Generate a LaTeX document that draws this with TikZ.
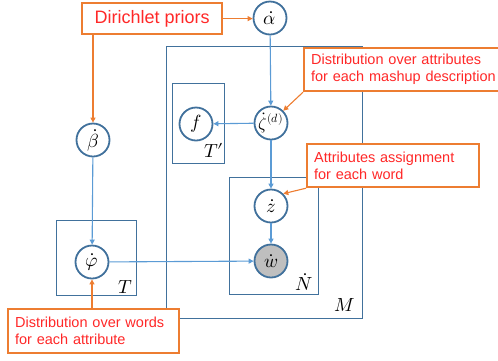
\documentclass[tikz,border=0pt]{standalone}
\usepackage{fontspec}
\usepackage{unicode-math}
\setmainfont{Liberation Sans}
\setmathfont{Latin Modern Math}
\usetikzlibrary{arrows.meta}

\definecolor{plateblue}{RGB}{65,113,156}
\definecolor{arrowblue}{RGB}{91,155,213}
\definecolor{noteorange}{RGB}{237,125,49}
\definecolor{notered}{RGB}{255,40,40}
\definecolor{obsgray}{RGB}{191,191,191}

\tikzset{
  var/.style={circle, draw=plateblue, line width=1.8pt, minimum size=33pt,
    inner sep=0pt, fill=white, font=\fontsize{19}{19}\selectfont},
  obsvar/.style={var, fill=obsgray},
  plate/.style={draw=plateblue, line width=1.3pt, inner sep=0pt, anchor=north west},
  platelabel/.style={inner sep=0pt, font=\fontsize{19}{19}\selectfont},
  callout/.style={draw=noteorange, line width=2.2pt, fill=white, text=notered,
    align=left, anchor=north west, inner xsep=7pt, inner ysep=0pt,
    font=\fontsize{14.5}{17}\selectfont},
  flow/.style={draw=arrowblue, line width=1.1pt, -{Triangle[length=5pt,width=5pt]}},
  pointer/.style={draw=noteorange, line width=1.1pt, -{Triangle[length=5pt,width=5pt]}},
}

\begin{document}
\begin{tikzpicture}[x=1pt, y=-1pt]
  \useasboundingbox (0,0) rectangle (498,360);

  % plates
  \node[plate, minimum width=196pt, minimum height=272pt] (Mplate) at (166,46) {};
  \node[plate, minimum width=52pt, minimum height=80pt] (Tpplate) at (172,83) {};
  \node[plate, minimum width=89pt, minimum height=117pt] (Nplate) at (229,177) {};
  \node[plate, minimum width=80pt, minimum height=75pt] (Tplate) at (56,220) {};

  \node[platelabel] (Tplab) at (214,150) {$T\kern-0.5pt\prime$};
  \node[platelabel] (Nlab) at (304,282) {$\dot N$};
  \node[platelabel] (Mlab) at (345,305) {$M$};
  \node[platelabel] (Tlab) at (125,287) {$T$};

  % random variables
  \node[var] (alpha) at (270,18) {$\dot\alpha$};
  \node[var] (beta) at (93,140) {$\dot\beta$};
  \node[var] (f) at (196,124) {$f$};
  \node[var, font=\fontsize{17}{17}\selectfont] (zeta) at (271,123) {$\dot\zeta^{(d)}$};
  \node[var] (z) at (271,206) {$\dot z$};
  \node[obsvar] (w) at (271,261) {$\dot w$};
  \node[var] (phi) at (92,262) {$\dot\varphi$};

  % dependencies
  \draw[flow] (alpha) -- (zeta);
  \draw[flow] (zeta) -- (f);
  \draw[flow] (zeta) -- (z);
  \draw[flow] (z) -- (w);
  \draw[flow] (beta) -- (phi);
  \draw[flow] (phi) -- (w);

  % annotations
  \node[callout, minimum width=140pt, minimum height=31pt, align=center,
        font=\fontsize{18}{20}\selectfont] (prior) at (81,2) {Dirichlet priors};
  \node[callout, minimum width=197pt, minimum height=43pt, text width=196pt]
        (noteZeta) at (303,47) {Distribution over attributes\\for each mashup description};
  \node[callout, minimum width=172pt, minimum height=43pt, text width=158pt]
        (noteZ) at (306,143) {Attributes assignment\\for each word};
  \node[callout, minimum width=171pt, minimum height=44pt, text width=157pt]
        (notePhi) at (7,308) {Distribution over words\\for each attribute};

  \draw[pointer] (prior.east) -- (prior.east -| alpha.west);
  \draw[pointer] (prior.south -| beta) -- (beta.north);
  \draw[pointer] (noteZeta.south west) -- (zeta.north east);
  \draw[pointer] (noteZ.south west) -- (z.north east);
  \draw[pointer] (notePhi.north -| phi) -- (phi.south);
\end{tikzpicture}
\end{document}
